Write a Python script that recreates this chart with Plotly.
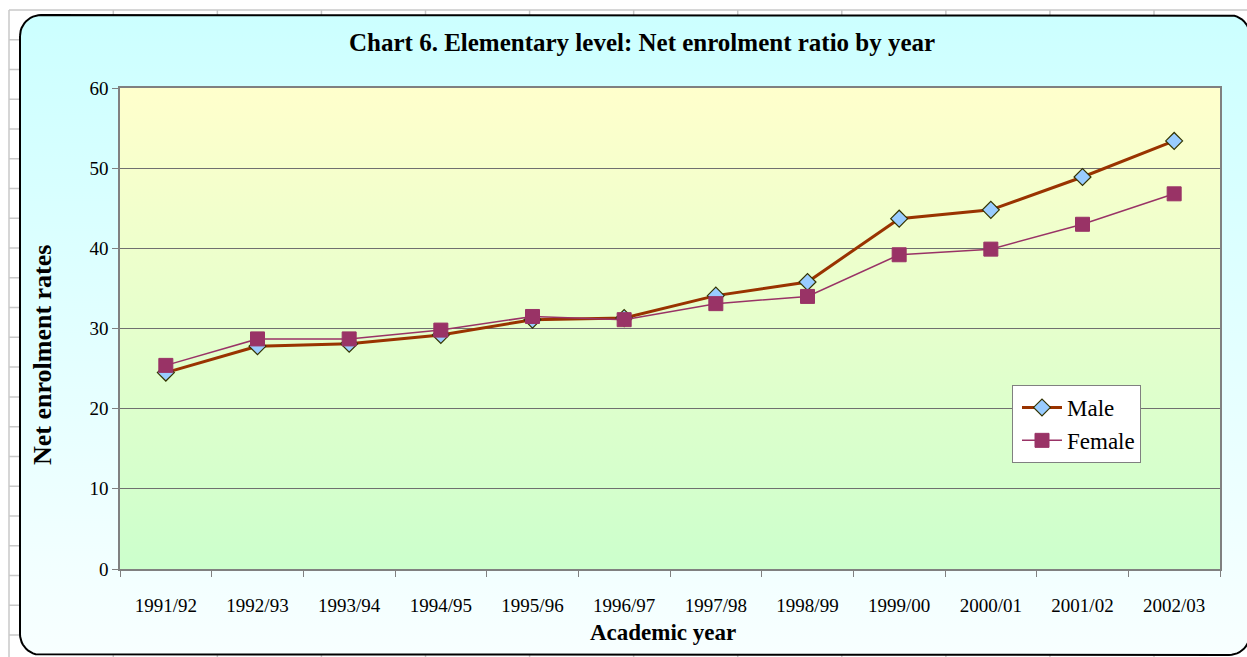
import math
import plotly.graph_objects as go

years = ["1991/92", "1992/93", "1993/94", "1994/95", "1995/96", "1996/97",
         "1997/98", "1998/99", "1999/00", "2000/01", "2001/02", "2002/03"]
male = [24.5, 27.8, 28.1, 29.2, 31.1, 31.3, 34.1, 35.8, 43.7, 44.8, 48.9, 53.4]
female = [25.4, 28.7, 28.7, 29.8, 31.5, 31.1, 33.1, 34.0, 39.2, 39.9, 43.0, 46.8]

W, H = 1247, 657
# plot area in pixels
PL, PR, PT, PB = 120, 1220, 88, 569
SERIF = "Liberation Serif, Times New Roman, serif"

fig = go.Figure()

# ---- decoration: spreadsheet grid (shapes below everything)
shapes = []
grid_col = "#C8C8C8"
shapes.append(dict(type="line", xref="x", yref="y", x0=9, x1=W, y0=10, y1=10,
                   line=dict(color=grid_col, width=1.5), layer="below"))
shapes.append(dict(type="line", xref="x", yref="y", x0=9, x1=9, y0=10, y1=H,
                   line=dict(color=grid_col, width=1.5), layer="below"))
for k in range(12):
    xv = 113.3 + 104.07 * k
    shapes.append(dict(type="line", xref="x", yref="y", x0=xv, x1=xv, y0=10, y1=H,
                       line=dict(color=grid_col, width=1.5), layer="below"))
for k in range(1, 23):
    yv = 10 + 29.76 * k
    shapes.append(dict(type="line", xref="x", yref="y", x0=9, x1=W, y0=yv, y1=yv,
                       line=dict(color=grid_col, width=1.5), layer="below"))

# ---- decoration: rounded chart area with vertical gradient
L, R, T, B, rad = 20, 1250, 15, 655, 21
px, py = [], []
def arc(cx, cy, a0, a1):
    for i in range(13):
        a = math.radians(a0 + (a1 - a0) * i / 12)
        px.append(cx + rad * math.cos(a))
        py.append(cy + rad * math.sin(a))
arc(L + rad, T + rad, 180, 270)
arc(R - rad, T + rad, 270, 360)
arc(R - rad, B - rad, 0, 90)
arc(L + rad, B - rad, 90, 180)
px.append(px[0]); py.append(py[0])
fig.add_trace(go.Scatter(
    x=px, y=py, xaxis="x", yaxis="y", mode="lines", fill="toself",
    line=dict(color="black", width=2),
    fillgradient=dict(type="vertical", start=T, stop=B,
                      colorscale=[[0, "#CCFFFF"], [1, "#F8FFFF"]]),
    hoverinfo="skip", showlegend=False))

# plot area gradient
fig.add_trace(go.Scatter(
    x=[PL, PR, PR, PL, PL], y=[PT, PT, PB, PB, PT], xaxis="x", yaxis="y",
    mode="lines", fill="toself", line=dict(width=0),
    fillgradient=dict(type="vertical", start=PT, stop=PB,
                      colorscale=[[0, "#FFFFCC"], [1, "#CCFFCC"]]),
    hoverinfo="skip", showlegend=False))

# ---- data
fig.add_trace(go.Scatter(
    x=years, y=male, name="Male", xaxis="x2", yaxis="y2",
    mode="lines+markers",
    line=dict(color="#993300", width=3),
    marker=dict(symbol="diamond", size=13, color="#99CCFF",
                line=dict(color="#333300", width=1.2))))
fig.add_trace(go.Scatter(
    x=years, y=female, name="Female", xaxis="x2", yaxis="y2",
    mode="lines+markers",
    line=dict(color="#993366", width=1.5),
    marker=dict(symbol="square", size=14, color="#993366",
                line=dict(color="#993366", width=1))))

fig.update_layout(
    width=W, height=H, autosize=False,
    margin=dict(l=0, r=0, t=0, b=0, pad=0, autoexpand=False),
    paper_bgcolor="white", plot_bgcolor="rgba(0,0,0,0)",
    showlegend=True,
    legend=dict(x=1012 / W, y=1 - 385 / H, xanchor="left", yanchor="top",
                bgcolor="white", bordercolor="#808080", borderwidth=1,
                font=dict(family=SERIF, size=23, color="black"),
                traceorder="normal", itemwidth=40, indentation=4,
                tracegroupgap=0),
    xaxis=dict(domain=[0, 1], range=[0, W], visible=False, fixedrange=True,
               automargin=False),
    yaxis=dict(domain=[0, 1], range=[H, 0], visible=False, fixedrange=True,
               automargin=False),
    xaxis2=dict(domain=[PL / W, PR / W], anchor="y2", type="category",
                categoryorder="array", categoryarray=years,
                range=[-0.5, len(years) - 0.5], automargin=False,
                tickson="boundaries", ticks="outside", ticklen=6,
                tickcolor="#808080", showgrid=False, ticklabelstandoff=18,
                showline=True, linecolor="#808080", linewidth=1.5, mirror=True,
                tickfont=dict(family=SERIF, size=19, color="black"),
                fixedrange=True),
    yaxis2=dict(domain=[(H - PB) / H, (H - PT) / H], anchor="x2",
                range=[0, 60], dtick=10, ticks="outside", ticklen=6,
                automargin=False,
                tickcolor="#808080", showgrid=True, gridcolor="#707070",
                gridwidth=1, zeroline=False,
                showline=True, linecolor="#808080", linewidth=1.5, mirror=True,
                tickfont=dict(family=SERIF, size=19, color="black"),
                fixedrange=True),
    shapes=shapes,
    annotations=[
        dict(text="<b>Chart 6. Elementary level: Net enrolment ratio by year</b>",
             xref="paper", yref="paper", x=642 / W, y=1 - 42 / H,
             showarrow=False, xanchor="center", yanchor="middle",
             font=dict(family=SERIF, size=25, color="black")),
        dict(text="<b>Net enrolment rates</b>", textangle=-90,
             xref="paper", yref="paper", x=42 / W, y=1 - 355 / H,
             showarrow=False, xanchor="center", yanchor="middle",
             font=dict(family=SERIF, size=26, color="black")),
        dict(text="<b>Academic year</b>",
             xref="paper", yref="paper", x=663 / W, y=1 - 632 / H,
             showarrow=False, xanchor="center", yanchor="middle",
             font=dict(family=SERIF, size=23, color="black")),
    ],
)

fig.write_html("out.html", config={"displayModeBar": False},
               post_script="document.body.style.margin='0';document.body.style.overflow='hidden';")
